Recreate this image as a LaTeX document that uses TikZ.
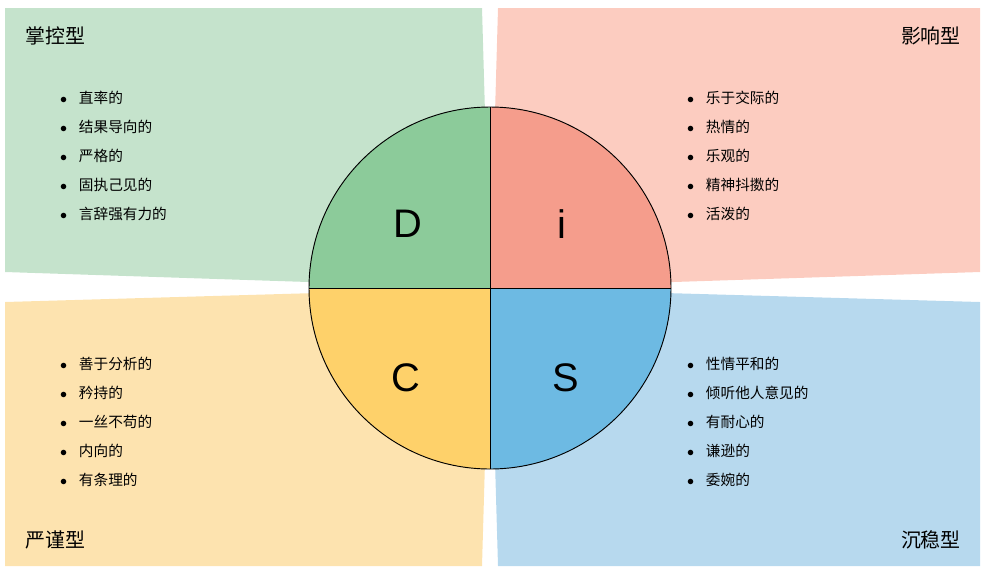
\documentclass[tikz,border=0pt]{standalone}
\usepackage{fontspec}
\setmainfont{Liberation Sans}
\newfontfamily\cjk{Noto Sans CJK SC}
\definecolor{bgD}{HTML}{C5E3CC}
\definecolor{bgI}{HTML}{FCCCC0}
\definecolor{bgC}{HTML}{FDE3AF}
\definecolor{bgS}{HTML}{B7D9EE}
\definecolor{fD}{HTML}{8CCB9A}
\definecolor{fI}{HTML}{F59D8C}
\definecolor{fC}{HTML}{FED16A}
\definecolor{fS}{HTML}{6DBAE3}
\begin{document}
\begin{tikzpicture}[x=0.03cm,y=-0.03cm]
\tikzstyle{title}=[font=\cjk\fontsize{17}{20}\selectfont,inner sep=0pt]
\tikzstyle{item}=[font=\cjk\fontsize{12.5}{15}\selectfont,anchor=west,inner sep=0pt]
\tikzstyle{letter}=[font=\fontsize{34}{40}\selectfont,inner sep=0pt]
\useasboundingbox (0,0) rectangle (989,580);

% 背景
\coordinate (o) at (490,288);
\fill[bgD] (5,8) -- (482,8) -- (o) -- (5,272) -- cycle;
\fill[bgI] (498,8) -- (980,8) -- (980,272) -- (o) -- cycle;
\fill[bgC] (5,302) -- (o) -- (482,566) -- (5,566) -- cycle;
\fill[bgS] (980,302) -- (980,566) -- (498,566) -- (o) -- cycle;

% 圆
\fill[fD] (o) -- ++(-181,0) arc (180:90:181 and -181) -- cycle;
\fill[fI] (o) -- ++(0,-181) arc (90:0:181 and -181) -- cycle;
\fill[fC] (o) -- ++(-181,0) arc (180:270:181 and -181) -- cycle;
\fill[fS] (o) -- ++(181,0) arc (0:-90:181 and -181) -- cycle;
\draw[thick] (o) circle[radius=181];
\draw (309,288) -- (671,288);
\draw (490,107) -- (490,469);

\node[letter] (D) at (408,224) {D};
\node[letter] (I) at (562,224) {i};
\node[letter] (C) at (406,378) {C};
\node[letter] (S) at (566,378) {S};

% 标题
\node[title,anchor=west] (tD) at (25,36) {掌控型};
\node[title,anchor=east] (tI) at (961,36) {影响型};
\node[title,anchor=west] (tC) at (25,540) {严谨型};
\node[title,anchor=east] (tS) at (961,540) {沉稳型};

% 列表
\foreach \t [count=\i] in {直率的,结果导向的,严格的,固执己见的,言辞强有力的}
  \node[item] (d\i) at (60,69+29*\i) {$\bullet$\hspace{10pt}\t};
\foreach \t [count=\i] in {乐于交际的,热情的,乐观的,精神抖擞的,活泼的}
  \node[item] (i\i) at (687,69+29*\i) {$\bullet$\hspace{10pt}\t};
\foreach \t [count=\i] in {善于分析的,矜持的,一丝不苟的,内向的,有条理的}
  \node[item] (c\i) at (60,335+29*\i) {$\bullet$\hspace{10pt}\t};
\foreach \t [count=\i] in {性情平和的,倾听他人意见的,有耐心的,谦逊的,委婉的}
  \node[item] (s\i) at (687,335+29*\i) {$\bullet$\hspace{10pt}\t};
\end{tikzpicture}
\end{document}
